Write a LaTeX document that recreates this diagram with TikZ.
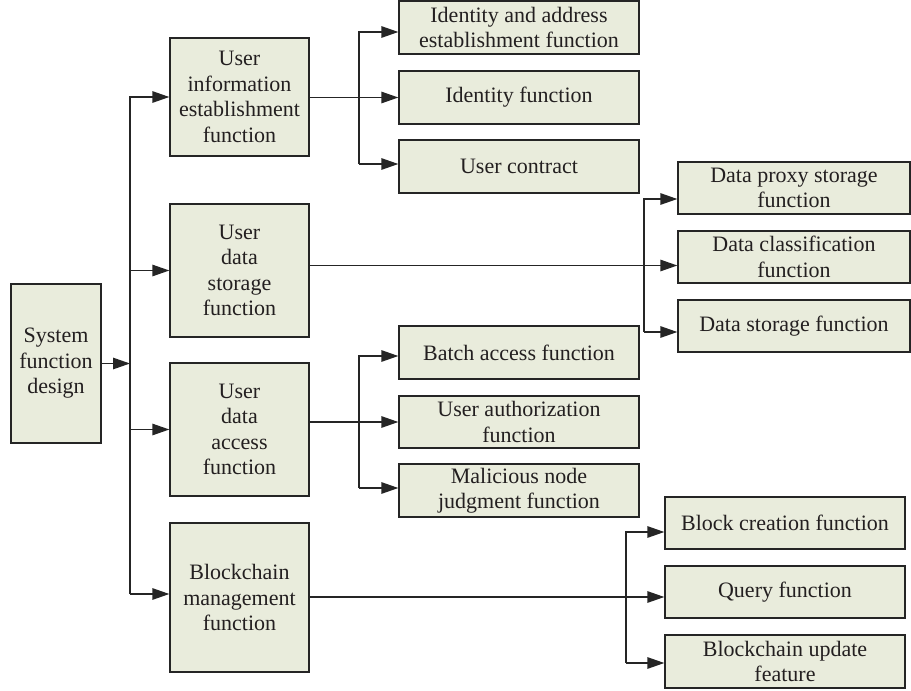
\documentclass[tikz,border=0pt]{standalone}
\usepackage{fontspec}
\setmainfont{Liberation Serif}
\usetikzlibrary{arrows.meta}
\definecolor{boxfill}{HTML}{E9ECDC}
\definecolor{linec}{HTML}{252525}
\definecolor{textc}{HTML}{231F20}
\tikzset{
  box/.style={draw=linec, line width=1.3pt, fill=boxfill, align=center, inner sep=2pt,
    text=textc, font=\fontsize{22}{25.5}\selectfont},
  conn/.style={draw=linec, line width=1.3pt},
  arr/.style={conn, -{Triangle[length=17pt,width=11.5pt]}}
}
\begin{document}
\begin{tikzpicture}[x=1pt,y=-1pt]
\useasboundingbox (0,0) rectangle (911,691);
% root
\node[box, minimum width=90pt, minimum height=159pt] (root) at (56,363.5) {System\\function\\design};
% level 1
\node[box, minimum width=139pt, minimum height=118pt] (b1) at (239.5,97) {User\\information\\establishment\\function};
\node[box, minimum width=139pt, minimum height=133pt] (b2) at (239.5,270.5) {User\\data\\storage\\function};
\node[box, minimum width=139pt, minimum height=133pt] (b3) at (239.5,429.5) {User\\data\\access\\function};
\node[box, minimum width=139pt, minimum height=149pt] (b4) at (239.5,597.5) {Blockchain\\management\\function};
% group 1
\node[box, minimum width=240pt, minimum height=53pt] (A) at (519,27.5) {Identity and address\\establishment function};
\node[box, minimum width=240pt, minimum height=53pt] (B) at (519,97.5) {Identity function};
\node[box, minimum width=240pt, minimum height=53pt] (C) at (519,166.5) {User contract};
% group 2
\node[box, minimum width=232pt, minimum height=52pt] (D) at (794,188) {Data proxy storage\\function};
\node[box, minimum width=232pt, minimum height=52pt] (E) at (794,257) {Data classification\\function};
\node[box, minimum width=232pt, minimum height=52pt] (F) at (794,326) {Data storage function};
% group 3
\node[box, minimum width=240pt, minimum height=53pt] (J) at (519,352.5) {Batch access function};
\node[box, minimum width=240pt, minimum height=52pt] (K) at (519,422) {User authorization\\function};
\node[box, minimum width=240pt, minimum height=53pt] (L) at (519,490.5) {Malicious node\\judgment function};
% group 4
\node[box, minimum width=240pt, minimum height=52pt] (G) at (785,523) {Block creation function};
\node[box, minimum width=240pt, minimum height=52pt] (H) at (785,592) {Query function};
\node[box, minimum width=240pt, minimum height=53pt] (I) at (785,661.5) {Blockchain update\\feature};
% trunk x positions
\coordinate (t0) at (130,0);
\coordinate (t1) at (359,0);
\coordinate (t2) at (644,0);
\coordinate (t3) at (359,0);
\coordinate (t4) at (626,0);
% arrow target points
\coordinate (p1) at (b1.west);
\coordinate (p2) at (b2.west);
\coordinate (p3) at (b3.west);
\coordinate (p4) at ([yshift=3.5pt]b4.west);
\coordinate (pA) at ([yshift=-4.5pt]A.west);
\coordinate (pB) at (B.west);
\coordinate (pC) at ([yshift=2.5pt]C.west);
\coordinate (pD) at ([yshift=-11pt]D.west);
\coordinate (pE) at ([yshift=-8.5pt]E.west);
\coordinate (pF) at ([yshift=-6pt]F.west);
\coordinate (pJ) at ([yshift=-3.5pt]J.west);
\coordinate (pK) at (K.west);
\coordinate (pL) at ([yshift=2.5pt]L.west);
\coordinate (pG) at ([yshift=-9pt]G.west);
\coordinate (pH) at ([yshift=-5pt]H.west);
\coordinate (pI) at ([yshift=-1.5pt]I.west);
% main
\draw[arr] (root.east) -- (root.east -| t0);
\draw[arr] (t0 |- p4) -- (t0 |- p1) -- (p1);
\draw[arr] (t0 |- p2) -- (p2);
\draw[arr] (t0 |- p3) -- (p3);
\draw[arr] (t0 |- p4) -- (p4);
% group 1
\draw[arr] (b1.east |- pB) -- (pB);
\draw[arr] (t1 |- pC) -- (t1 |- pA) -- (pA);
\draw[arr] (t1 |- pC) -- (pC);
% group 2
\draw[arr] (b2.east |- pE) -- (pE);
\draw[arr] (t2 |- pF) -- (t2 |- pD) -- (pD);
\draw[arr] (t2 |- pF) -- (pF);
% group 3
\draw[arr] (b3.east |- pK) -- (pK);
\draw[arr] (t3 |- pL) -- (t3 |- pJ) -- (pJ);
\draw[arr] (t3 |- pL) -- (pL);
% group 4
\draw[arr] (b4.east |- pH) -- (pH);
\draw[arr] (t4 |- pI) -- (t4 |- pG) -- (pG);
\draw[arr] (t4 |- pI) -- (pI);
\end{tikzpicture}
\end{document}
